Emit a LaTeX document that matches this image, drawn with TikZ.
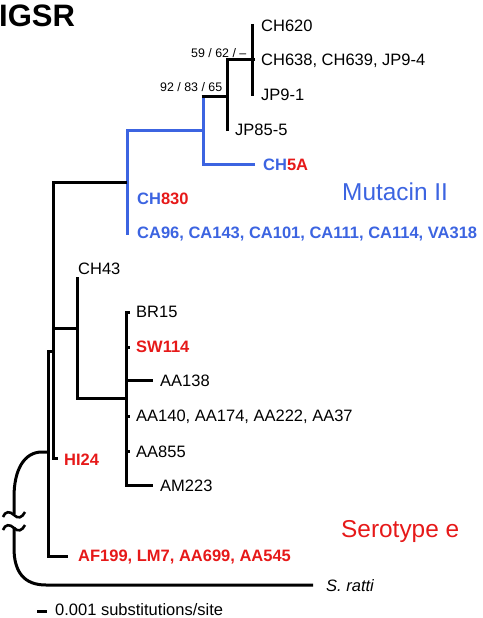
\documentclass[tikz,border=0pt]{standalone}
\usepackage{fontspec}
\setmainfont{Liberation Sans}
\definecolor{tblue}{RGB}{60,100,225}
\definecolor{tred}{RGB}{230,25,25}
\begin{document}
\begin{tikzpicture}[x=1pt,y=-1pt,
  br/.style={line width=3pt, line join=miter, line cap=butt},
  bbr/.style={br, draw=tblue},
  lab/.style={anchor=base west, inner sep=0pt, font=\fontsize{16.5}{18}\selectfont},
  blab/.style={anchor=base west, inner sep=0pt, font=\fontsize{16.5}{18}\selectfont\bfseries},
  boot/.style={anchor=base west, inner sep=0pt, font=\fontsize{12.4}{14}\selectfont},
  big/.style={anchor=base west, inner sep=0pt, font=\fontsize{24.4}{28}\selectfont}]
\useasboundingbox (0,0) rectangle (482,618);

% title
\node[anchor=base west, inner sep=0pt, font=\fontsize{31}{34}\selectfont\bfseries] (title) at (-1,27) {IGSR};

% coordinates of the tree
\coordinate (a1) at (252,24);
\coordinate (a2) at (252,96);
\coordinate (a3) at (252,60);
\coordinate (b1) at (227,60);
\coordinate (b2) at (227,131);
\coordinate (b3) at (227,96);
\coordinate (c1) at (203,96);
\coordinate (c2) at (203,164);
\coordinate (c3) at (255,164);
\coordinate (c4) at (203,130);
\coordinate (d1) at (127,130);
\coordinate (d2) at (127,235);
\coordinate (d3) at (127,182);
\coordinate (e1) at (53,182);
\coordinate (e2) at (53,458);
\coordinate (e3) at (58,458);
\coordinate (e4) at (53,328);
\coordinate (e5) at (53,351);
\coordinate (f1) at (77,277);
\coordinate (f2) at (77,398);
\coordinate (f3) at (77,328);
\coordinate (g1) at (126,312);
\coordinate (g2) at (126,485);
\coordinate (g3) at (153,485);
\coordinate (g4) at (126,398);
\coordinate (h1) at (48,351);
\coordinate (h2) at (48,556);
\coordinate (h3) at (68,556);
\coordinate (r) at (48,452);
\coordinate (s) at (313,585);

% black branches
\draw[br] (a1) -- (a2);
\draw[br] (a3) -- ++(3,0);
\draw[br] (b2) -- (b1) -- (a3);
% blue branches
\draw[bbr] (c3) -- (c2) -- (c1);
\draw[bbr] (c4) -- (d1) -- (d2);
\draw[br] ([xshift=-1.5pt]c1) -- (b3);
% main black
\draw[br] (d3) -- (e1) -- (e2) -- (e3);
\draw[br] (e4) -- (f3);
\draw[br] (f1) -- (f2) -- (g4);
\draw[br] ([xshift=4pt]g1) -- (g1) -- (g2) -- (g3);
\draw[br] (126,380) -- (153,380);
\draw[br] (126,347) -- ++(4,0);
\draw[br] (126,416) -- ++(4,0);
\draw[br] (126,451) -- ++(4,0);
\draw[br] (e5) -- (h1) -- (h2) -- (h3);

% outgroup with break
\draw[br] (r) -- (42,452) .. controls (24,452) and (14,470) .. (14,497) -- (14,514);
\draw[br] (14,527) -- (14,548) .. controls (14,572) and (24,585) .. (46,585) -- (s);
\draw[line width=2.6pt] (3,517) .. controls (5,511) and (10,511) .. (14,515) .. controls (18,519) and (22,518) .. (25,512);
\draw[line width=2.6pt] (3,530) .. controls (5,524) and (10,524) .. (14,528) .. controls (18,532) and (22,531) .. (25,525);

% bootstrap
\node[boot] (bs1) at (191,57) {59 / 62 / –};
\node[boot] (bs2) at (160,92) {92 / 83 / 65};

% tip labels
\node[lab] (t1) at (261,31.5) {CH620};
\node[lab] (t2) at (261,65.5) {CH638, CH639, JP9-4};
\node[lab] (t3) at (261,100) {JP9-1};
\node[lab] (t4) at (235,135) {JP85-5};
\node[blab, text=tblue] (t5) at (263,170) {CH\textcolor{tred}{5A}};
\node[blab, text=tblue] (t6) at (137,204) {CH\textcolor{tred}{830}};
\node[blab, text=tblue] (t7) at (137,238) {CA96, CA143, CA101, CA111, CA114, VA318};
\node[lab] (t8) at (78,274) {CH43};
\node[lab] (t9) at (136,317) {BR15};
\node[blab, text=tred] (t10) at (136,352) {SW114};
\node[lab] (t11) at (160,386.5) {AA138};
\node[lab] (t12) at (136,421.5) {AA140, AA174, AA222, AA37};
\node[lab] (t13) at (136,457) {AA855};
\node[lab] (t14) at (160,491) {AM223};
\node[blab, text=tred] (t15) at (64,465) {HI24};
\node[blab, text=tred] (t16) at (78,561) {AF199, LM7, AA699, AA545};
\node[lab] (t17) at (326,591.5) {\itshape S. ratti};

% group labels
\node[big, text=tblue] (m) at (342,200) {Mutacin II};
\node[big, text=tred] (se) at (341,537) {Serotype e};

% scale bar
\coordinate (sb1) at (37,611);
\coordinate (sb2) at (47,611);
\draw[line width=3pt] (sb1) -- (sb2);
\node[lab] (sbt) at (55,615.5) {0.001 substitutions/site};
\end{tikzpicture}
\end{document}
